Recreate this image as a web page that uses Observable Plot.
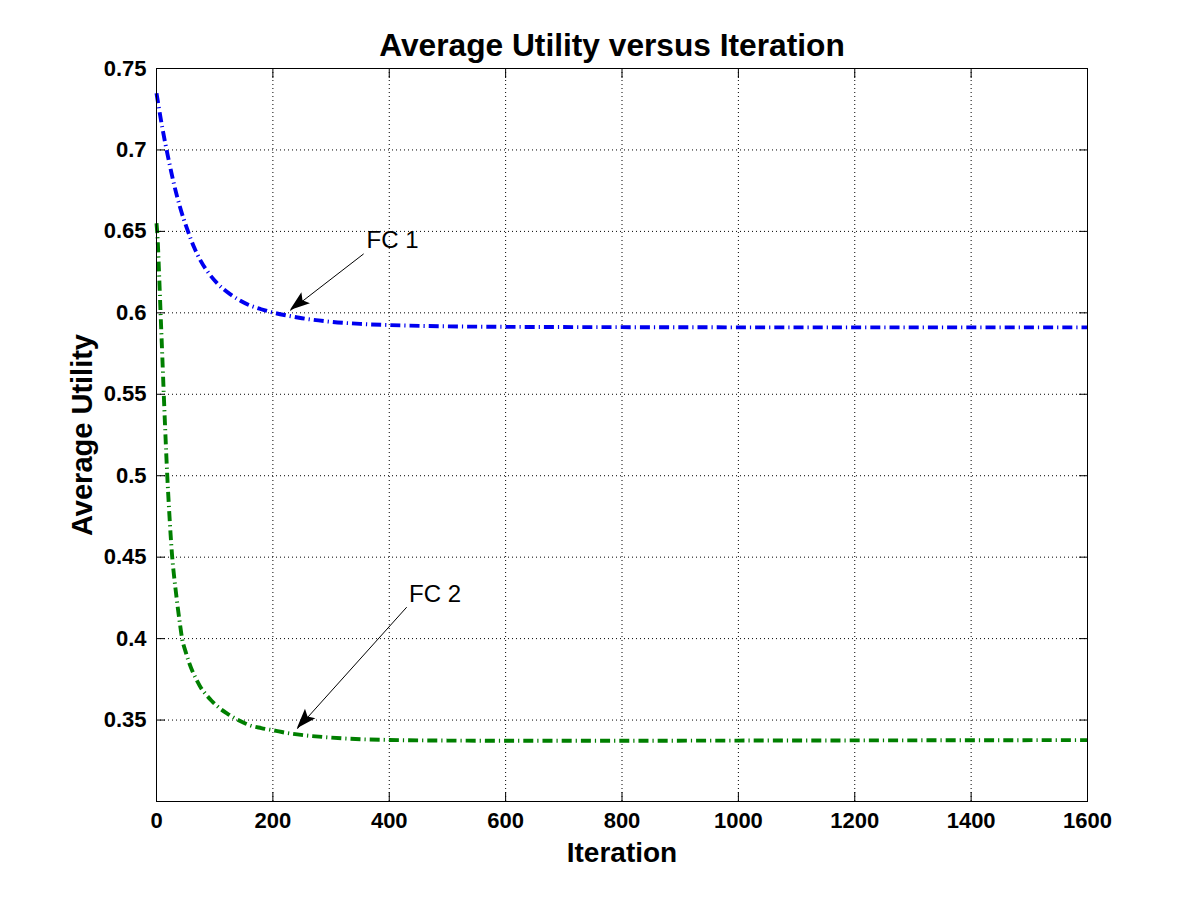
<!DOCTYPE html>
<html><head><meta charset="utf-8">
<script src="https://cdn.jsdelivr.net/npm/d3@7"></script>
<script src="https://cdn.jsdelivr.net/npm/@observablehq/plot@0.6"></script>
<style>body{margin:0;background:#fff}</style>
</head><body><div id="chart"></div>
<script>
// ---- data ----
const fc1Iter = [0, 10, 20, 30, 40, 54, 65, 76, 90, 105, 127, 145, 161, 180, 200, 225, 250, 300, 350, 400, 500, 600, 800, 1000, 1200, 1400, 1600];
const fc1Util = [0.7348, 0.7136, 0.6955, 0.6791, 0.6654, 0.6501, 0.6399, 0.6319, 0.6242, 0.6179, 0.6113, 0.6073, 0.6045, 0.6022, 0.6002, 0.5983, 0.5967, 0.5945, 0.5932, 0.5925, 0.5917, 0.5914, 0.5912, 0.5911, 0.5911, 0.5911, 0.5911];
const fc2Iter = [0, 2, 4, 7, 10, 12.5, 15, 18.5, 22, 27, 30, 33, 36, 40, 44, 50, 56, 63, 70, 76, 85, 95, 108, 121, 135, 150, 161, 180, 202, 225, 253, 290, 333, 400, 500, 600, 800, 1000, 1200, 1400, 1600];
const fc2Util = [0.655, 0.645, 0.628, 0.600, 0.573, 0.550, 0.528, 0.500, 0.477, 0.450, 0.439, 0.4296, 0.4207, 0.4098, 0.400, 0.392, 0.3853, 0.379, 0.3739, 0.370, 0.3657, 0.3617, 0.3574, 0.3541, 0.351, 0.3483, 0.3467, 0.3451, 0.3436, 0.342, 0.3407, 0.3395, 0.3385, 0.3378, 0.3374, 0.3373, 0.3373, 0.3374, 0.3375, 0.3376, 0.3377];
const seriesNames = ["FC 1", "FC 2"];
const xTicks = [0, 200, 400, 600, 800, 1000, 1200, 1400, 1600];
const xTickLabels = ["0", "200", "400", "600", "800", "1000", "1200", "1400", "1600"];
const yTicks = [0.35, 0.4, 0.45, 0.5, 0.55, 0.6, 0.65, 0.7, 0.75];
const yTickLabels = ["0.35", "0.4", "0.45", "0.5", "0.55", "0.6", "0.65", "0.7", "0.75"];
const annLabels = ["FC 1", "FC 2"];
const annTextX = [361, 434];
const annTextY = [0.6395, 0.4224];
const arrowX1 = [356, 430];
const arrowY1 = [0.6362, 0.4193];
const arrowX2 = [230, 242];
const arrowY2 = [0.6014, 0.3446];
const titleText = "Average Utility versus Iteration";
const xLabelText = "Iteration";
const yLabelText = "Average Utility";

// ---- build tables ----
const fc1 = fc1Iter.map((x, i) => ({series: seriesNames[0], iteration: x, utility: fc1Util[i]}));
const fc2 = fc2Iter.map((x, i) => ({series: seriesNames[1], iteration: x, utility: fc2Util[i]}));
const ann = annLabels.map((t, i) => ({text: t, tx: annTextX[i], ty: annTextY[i], x1: arrowX1[i], y1: arrowY1[i], x2: arrowX2[i], y2: arrowY2[i]}));

const FONT = "'Liberation Sans', Arial, Helvetica, sans-serif";
const dashDot = "10,4,1.2,4";
const fmtX = d => xTickLabels[xTicks.indexOf(d)];
const fmtY = d => yTickLabels[yTicks.indexOf(d)];

const chart = Plot.plot({
  width: 1201,
  height: 901,
  marginLeft: 156,
  marginRight: 114,
  marginTop: 68,
  marginBottom: 100,
  style: {fontFamily: FONT, background: "#fff", color: "#000"},
  x: {domain: [0, 1600], label: null},
  y: {domain: [0.3, 0.75], label: null},
  marks: [
    Plot.gridX(xTicks, {stroke: "#000", strokeOpacity: 1, strokeDasharray: "1,3"}),
    Plot.gridY(yTicks, {stroke: "#000", strokeOpacity: 1, strokeDasharray: "1,3"}),
    Plot.line(fc1, {x: "iteration", y: "utility", stroke: "#0000f0", strokeWidth: 3.9, strokeDasharray: dashDot, strokeLinecap: "butt", curve: "monotone-x"}),
    Plot.line(fc2, {x: "iteration", y: "utility", stroke: "#007f00", strokeWidth: 3.9, strokeDasharray: dashDot, strokeLinecap: "butt", curve: "monotone-x"}),
    Plot.frame({stroke: "#000", strokeWidth: 1}),
    Plot.axisX(xTicks, {anchor: "bottom", tickSize: -9, tickPadding: 20, tickFormat: fmtX, fontSize: 22, fontWeight: "bold", label: null}),
    Plot.axisX(xTicks, {anchor: "top", tickSize: -9, tickFormat: () => "", label: null}),
    Plot.axisY(yTicks, {anchor: "left", tickSize: -9, tickPadding: 19, tickFormat: fmtY, fontSize: 22, fontWeight: "bold", label: null}),
    Plot.axisY(yTicks, {anchor: "right", tickSize: -9, tickFormat: () => "", label: null}),
    Plot.link(ann, {x1: "x1", y1: "y1", x2: "x2", y2: "y2", stroke: "#000", strokeWidth: 1}),
    Plot.text(ann, {x: "tx", y: "ty", text: "text", textAnchor: "start", lineAnchor: "bottom", fontSize: 24, fill: "#000"}),
    Plot.text([titleText], {frameAnchor: "top", textAnchor: "middle", dy: -13, dx: -10, lineAnchor: "bottom", fontSize: 31.7, fontWeight: "bold", fill: "#000"}),
    Plot.text([xLabelText], {frameAnchor: "bottom", textAnchor: "middle", dy: 60, lineAnchor: "bottom", fontSize: 28, fontWeight: "bold", fill: "#000"}),
    Plot.text([yLabelText], {frameAnchor: "left", textAnchor: "middle", dx: -65, rotate: -90, lineAnchor: "bottom", fontSize: 29, fontWeight: "bold", fill: "#000"})
  ]
});

// filled arrowheads, positioned through Plot's scales
const sx = chart.scale("x"), sy = chart.scale("y");
const svg = d3.select(chart);
ann.forEach(a => {
  const x1 = sx.apply(a.x1), y1 = sy.apply(a.y1), x2 = sx.apply(a.x2), y2 = sy.apply(a.y2);
  const ang = Math.atan2(y2 - y1, x2 - x1);
  const ux = Math.cos(ang), uy = Math.sin(ang), px = -uy, py = ux;
  const L = 20, W = 7, N = 16;
  const bx = x2 - ux * L, by = y2 - uy * L;
  const pts = [[x2, y2], [bx + px * W, by + py * W], [x2 - ux * N, y2 - uy * N], [bx - px * W, by - py * W]];
  svg.append("polygon").attr("points", pts.map(p => p.join(",")).join(" ")).attr("fill", "#000");
});
document.getElementById("chart").appendChild(chart);
</script>
</body></html>
